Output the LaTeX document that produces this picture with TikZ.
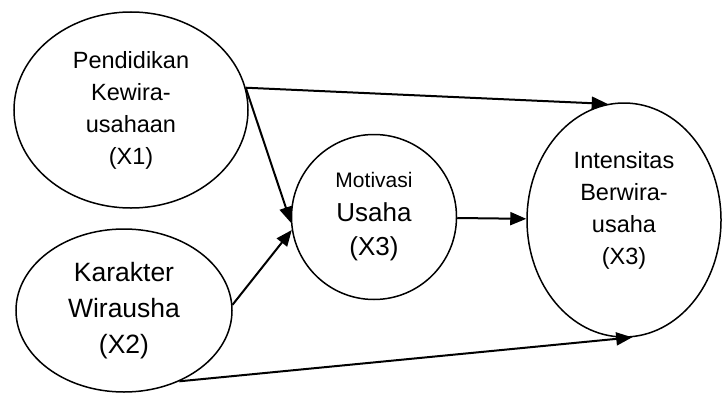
\documentclass[tikz,border=0pt]{standalone}
\usepackage{fontspec}
\setmainfont{Liberation Sans}
\usetikzlibrary{shapes.geometric,arrows.meta}

\begin{document}
\begin{tikzpicture}[
    x=1pt, y=1pt,
    var/.style={
      ellipse,
      draw=black,
      line width=1.5pt,
      inner sep=0pt,
      align=center
    },
    txt/.style={
      align=center,
      font=\fontsize{23.5}{32}\selectfont
    },
    link/.style={
      line width=2pt,
      -{Triangle[length=16pt,width=13pt]}
    }
  ]

    \useasboundingbox (0,0) rectangle (727,392);

    % Variables
    \node[var, minimum width=234pt, minimum height=196pt,
      font=\fontsize{23.5}{32}\selectfont] (x1) at (131,282)
      {Pendidikan\\Kewira-\\usahaan\\(X1)};
    \node[var, minimum width=216pt, minimum height=163pt,
      font=\fontsize{26.5}{36}\selectfont] (x2) at (124,81.5)
      {Karakter\\Wirausha\\(X2)};
    \node[var, circle, minimum size=165pt,
      font=\fontsize{26}{34}\selectfont] (mot) at (374,175)
      {{\fontsize{21}{25}\selectfont Motivasi}\\Usaha\\(X3)};
    \node[var, minimum width=194pt, minimum height=234pt] (y) at (624,172) {};
    \node[txt] (ytext) at ([yshift=10pt]y.center)
      {Intensitas\\Berwira-\\usaha\\(X3)};

    % Paths
    \draw[link] (x1.11) -- (y.98);
    \draw[link] (x1.11) -- (mot.184);
    \draw[link] (x2.3) -- (mot.189);
    \draw[link] (mot) -- (y);
    \draw[link] (x2.-52.7) -- (y.-86);

  \end{tikzpicture}
\end{document}
